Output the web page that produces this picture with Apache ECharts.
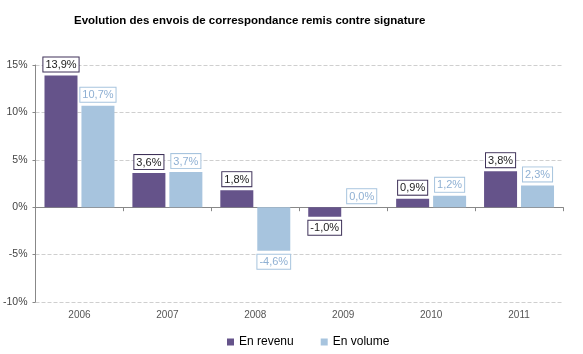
<!DOCTYPE html>
<html><head><meta charset="utf-8">
<script src="https://cdn.jsdelivr.net/npm/echarts@6/dist/echarts.min.js"></script>
<style>html,body{margin:0;padding:0;background:#fff}#c{width:583px;height:354px}</style>
</head><body><div id="c"></div>
<script>
const categories = ['2006','2007','2008','2009','2010','2011'];
const revenu = [13.9, 3.6, 1.8, -1.0, 0.9, 3.8];
const volume = [10.7, 3.7, -4.6, 0.0, 1.2, 2.3];
const yTicks = {min: -10, max: 15, interval: 5};
const seriesNames = ['En revenu', 'En volume'];
const titleText = 'Evolution des envois de correspondance remis contre signature';

const purple = '#65538A', blue = '#A7C4DE';
const sans = '"Liberation Sans", Arial, sans-serif';
function fmt(v){ return v.toFixed(1).replace('.', ',') + '%'; }
function items(arr, border, textColor){
  return arr.map(v => ({
    value: v,
    label: {
      show: true,
      position: v < 0 ? 'bottom' : 'top',
      distance: 4,
      formatter: fmt(v),
      color: textColor,
      fontSize: 11,
      fontFamily: sans,
      backgroundColor: '#fff',
      borderColor: border,
      borderWidth: 1,
      padding: [2, 2, 1, 2]
    }
  }));
}
const chart = echarts.init(document.getElementById('c'));
chart.setOption({
  animation: false,
  title: { text: titleText, left: 74, top: 15, padding: 0,
    textStyle: { fontSize: 11.5, fontWeight: 'bold', color: '#000', fontFamily: sans } },
  legend: { data: seriesNames, left: 227, top: 336, padding: 0, itemWidth: 7, itemHeight: 7, itemGap: 27,
    icon: 'rect', textStyle: { fontSize: 12, color: '#000', fontFamily: sans } },
  grid: { left: 31, right: 20, top: 65, bottom: 52 },
  xAxis: [
    { type: 'category', data: categories, axisLine: { onZero: true, lineStyle: { color: '#888' } },
      axisTick: { show: true, length: 4, lineStyle: { color: '#888' } }, axisLabel: { show: false } },
    { type: 'category', data: categories, position: 'bottom', axisLine: { show: false }, axisTick: { show: false },
      axisLabel: { color: '#555', fontSize: 10, margin: 8, fontFamily: sans } }
  ],
  yAxis: { type: 'value', min: yTicks.min, max: yTicks.max, interval: yTicks.interval,
    axisLine: { show: true, lineStyle: { color: '#888' } },
    axisTick: { show: true, length: 3, lineStyle: { color: '#888' } },
    axisLabel: { formatter: v => v + '%', color: '#444', fontSize: 10.5, margin: 8, fontFamily: sans } ,
    splitLine: { lineStyle: { type: 'dashed', color: '#cfcfcf' } } },
  series: [
    { name: seriesNames[0], type: 'bar', xAxisIndex: 0, barWidth: 33, barGap: '12%', itemStyle: { color: purple },
      data: items(revenu, '#3E3158', '#222') },
    { name: seriesNames[1], type: 'bar', xAxisIndex: 0, barWidth: 33, barGap: '12%', itemStyle: { color: blue },
      data: items(volume, '#A7C4DE', '#8FB0D3') }
  ]
});
</script></body></html>
